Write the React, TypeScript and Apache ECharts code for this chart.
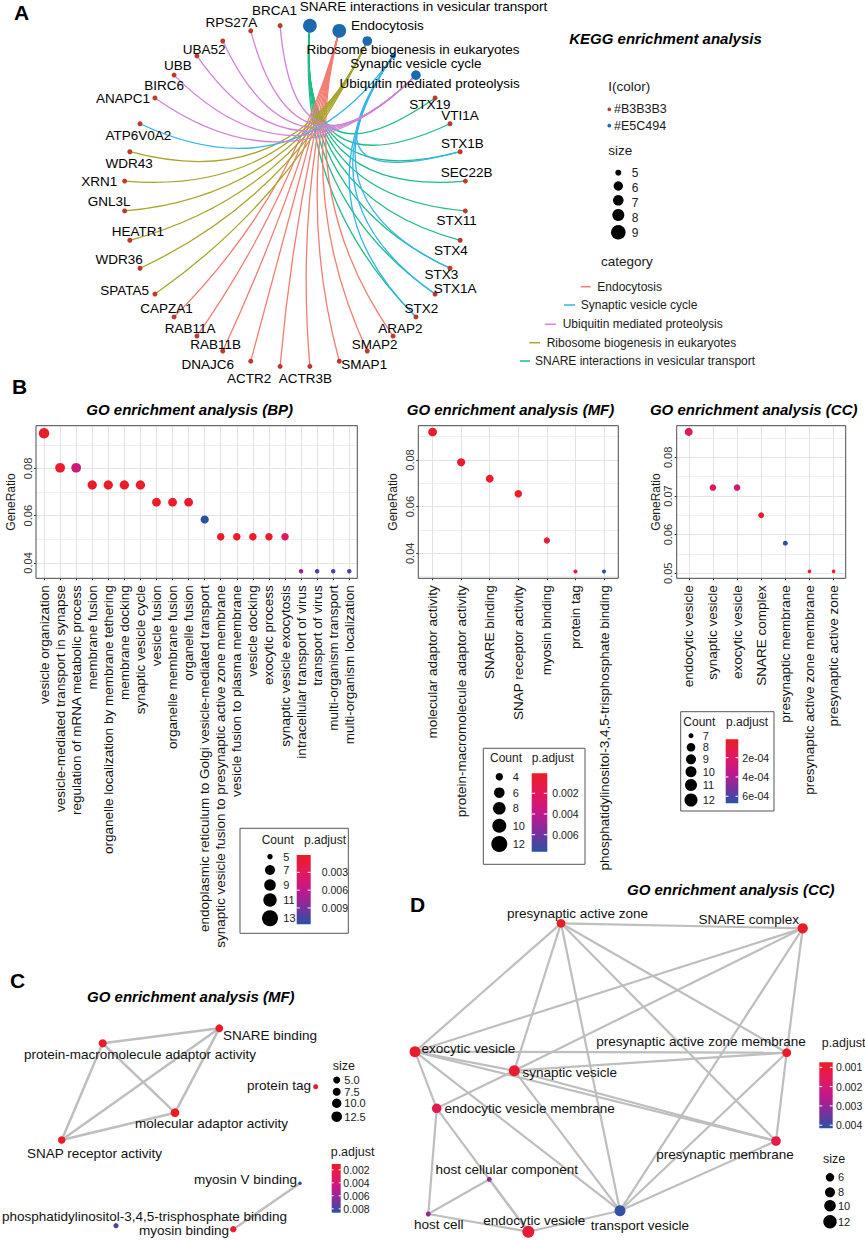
import React, { useEffect, useRef } from 'react';
import * as echarts from 'echarts';

const FONT = '"Liberation Sans", Arial, Helvetica, sans-serif';
const PALETTE = ['#EC1C24', '#E2195B', '#C5178B', '#7D2F9C', '#2A52A3'];

// ---------------- Panel A: KEGG gene-concept network ----------------
const keggCategories = [
  'SNARE interactions in vesicular transport',
  'Endocytosis',
  'Ribosome biogenesis in eukaryotes',
  'Synaptic vesicle cycle',
  'Ubiquitin mediated proteolysis',
];
const keggCategoryCounts = [9, 9, 6, 5, 6];
const snareGenes = ['STX19', 'VTI1A', 'STX1B', 'SEC22B', 'STX11', 'STX4', 'STX3', 'STX1A', 'STX2'];
const endocytosisGenes = ['CAPZA1', 'RAB11A', 'RAB11B', 'DNAJC6', 'ACTR2', 'ACTR3B', 'SMAP1', 'SMAP2', 'ARAP2'];
const ribosomeGenes = ['WDR43', 'XRN1', 'GNL3L', 'HEATR1', 'WDR36', 'SPATA5'];
const synapticGenes = ['ATP6V0A2', 'STX1B', 'STX3', 'STX1A', 'STX2'];
const ubiquitinGenes = ['BRCA1', 'RPS27A', 'UBA52', 'UBB', 'BIRC6', 'ANAPC1'];
const keggGeneSets = [snareGenes, endocytosisGenes, ribosomeGenes, synapticGenes, ubiquitinGenes];
// node order round the circle, clockwise from 3 o'clock
const keggCircleOrder = [
  'STX11', 'STX4', 'STX3', 'STX1A', 'STX2', 'ARAP2', 'SMAP2', 'SMAP1', 'ACTR3B', 'ACTR2',
  'DNAJC6', 'RAB11B', 'RAB11A', 'CAPZA1', 'SPATA5', 'WDR36', 'HEATR1', 'GNL3L', 'XRN1', 'WDR43',
  'ATP6V0A2', 'ANAPC1', 'BIRC6', 'UBB', 'UBA52', 'RPS27A', 'BRCA1',
  'SNARE interactions in vesicular transport', 'Endocytosis', 'Ribosome biogenesis in eukaryotes',
  'Synaptic vesicle cycle', 'Ubiquitin mediated proteolysis',
  'STX19', 'VTI1A', 'STX1B', 'SEC22B',
];
const keggLegendOrder = [
  'Endocytosis', 'Synaptic vesicle cycle', 'Ubiquitin mediated proteolysis',
  'Ribosome biogenesis in eukaryotes', 'SNARE interactions in vesicular transport',
];
const keggColorLegend = ['#B3B3B3', '#E5C494'];
const keggSizeBreaks = [5, 6, 7, 8, 9];

// ---------------- Panel B: dot plots ----------------
const bpTerms = [
  'vesicle organization', 'vesicle-mediated transport in synapse', 'regulation of mRNA metabolic process',
  'membrane fusion', 'organelle localization by membrane tethering', 'membrane docking', 'synaptic vesicle cycle',
  'vesicle fusion', 'organelle membrane fusion', 'organelle fusion',
  'endoplasmic reticulum to Golgi vesicle-mediated transport',
  'synaptic vesicle fusion to presynaptic active zone membrane', 'vesicle fusion to plasma membrane',
  'vesicle docking', 'exocytic process', 'synaptic vesicle exocytosis', 'intracellular transport of virus',
  'transport of virus', 'multi-organism transport', 'multi-organism localization',
];
const bpGeneRatio = [0.0949, 0.0803, 0.0803, 0.073, 0.073, 0.073, 0.073, 0.0657, 0.0657, 0.0657, 0.0584,
  0.0511, 0.0511, 0.0511, 0.0511, 0.0511, 0.0365, 0.0365, 0.0365, 0.0365];
const bpCount = [13, 11, 11, 10, 10, 10, 10, 9, 9, 9, 8, 7, 7, 7, 7, 7, 5, 5, 5, 5];
const bpPadj = [0.0004, 0.0006, 0.005, 0.0003, 0.0003, 0.0003, 0.0005, 0.0004, 0.0004, 0.0006, 0.0117,
  0.0002, 0.0002, 0.0004, 0.0004, 0.0035, 0.0072, 0.0102, 0.0102, 0.0102];
const bpYRange = [0.0335, 0.0981];
const bpPadjRange = [0.00007, 0.01176];
const bpCountBreaks = [5, 7, 9, 11, 13];
const bpPadjTicks = [0.003, 0.006, 0.009];
const bpPadjLabels = ['0.003', '0.006', '0.009'];

const mfTerms = [
  'molecular adaptor activity', 'protein-macromolecule adaptor activity', 'SNARE binding',
  'SNAP receptor activity', 'myosin binding', 'protein tag',
  'phosphatidylinositol-3,4,5-trisphosphate binding',
];
const mfGeneRatio = [0.092, 0.079, 0.072, 0.0655, 0.0455, 0.0322, 0.0322];
const mfCount = [13, 11, 10, 9, 6, 4, 4];
const mfPadj = [0.0004, 0.0004, 0.0003, 0.0002, 0.0008, 0.0008, 0.0076];
const mfYRange = [0.0293, 0.0947];
const mfPadjRange = [0.00007, 0.00764];
const mfCountBreaks = [4, 6, 8, 10, 12];
const mfPadjTicks = [0.002, 0.004, 0.006];
const mfPadjLabels = ['0.002', '0.004', '0.006'];

const ccTerms = [
  'endocytic vesicle', 'synaptic vesicle', 'exocytic vesicle', 'SNARE complex', 'presynaptic membrane',
  'presynaptic active zone membrane', 'presynaptic active zone',
];
const ccGeneRatio = [0.0866, 0.0722, 0.0722, 0.065, 0.0578, 0.0505, 0.0505];
const ccCount = [12, 10, 10, 9, 8, 7, 7];
const ccPadj = [0.00018, 0.0002, 0.00026, 0.00005, 0.00066, 0.00003, 0.00003];
const ccYRange = [0.0487, 0.0882];
const ccPadjRange = [0.00001, 0.000673];
const ccCountBreaks = [7, 8, 9, 10, 11, 12];
const ccPadjTicks = [0.0002, 0.0004, 0.0006];
const ccPadjLabels = ['2e-04', '4e-04', '6e-04'];

// ---------------- Panel C: MF enrichment map ----------------
const cTerms = [
  'SNARE binding', 'protein-macromolecule adaptor activity', 'protein tag', 'molecular adaptor activity',
  'SNAP receptor activity', 'myosin V binding', 'phosphatidylinositol-3,4,5-trisphosphate binding', 'myosin binding',
];
const cLayoutX = [219.3, 102.7, 315.7, 175, 61.7, 300, 116, 233.3];
const cLayoutY = [68.3, 83.3, 126.7, 152.7, 180, 223.3, 265.7, 269.3];
const cCount = [10, 11, 4, 13, 9, 3, 4, 6];
const cPadj = [0.0012, 0.0012, 0.0013, 0.0012, 0.0011, 0.0086, 0.0078, 0.0014];
const cEdges = [
  ['protein-macromolecule adaptor activity', 'SNARE binding'],
  ['protein-macromolecule adaptor activity', 'molecular adaptor activity'],
  ['protein-macromolecule adaptor activity', 'SNAP receptor activity'],
  ['SNARE binding', 'SNAP receptor activity'],
  ['SNARE binding', 'molecular adaptor activity'],
  ['SNAP receptor activity', 'molecular adaptor activity'],
  ['myosin V binding', 'myosin binding'],
];
const cPadjRange = [0.0011, 0.0086];
const cSizeBreaks = ['5.0', '7.5', '10.0', '12.5'];
const cPadjTicks = [0.002, 0.004, 0.006, 0.008];
const cPadjLabels = ['0.002', '0.004', '0.006', '0.008'];

// ---------------- Panel D: CC enrichment map ----------------
const dTerms = [
  'presynaptic active zone', 'SNARE complex', 'exocytic vesicle', 'presynaptic active zone membrane',
  'synaptic vesicle', 'endocytic vesicle membrane', 'presynaptic membrane', 'host cellular component',
  'host cell', 'endocytic vesicle', 'transport vesicle',
];
const dLayoutX = [161, 402.7, 15, 386.7, 114.3, 36.7, 376, 89.3, 28.3, 128.3, 220];
const dLayoutY = [43.3, 48.3, 171.7, 172.7, 190.7, 228.3, 261, 299.3, 334, 351.7, 330.7];
const dCount = [7, 9, 10, 7, 10, 8, 8, 5, 5, 12, 10];
const dPadj = [0.0008, 0.0008, 0.0009, 0.0008, 0.0009, 0.0014, 0.0013, 0.003, 0.003, 0.0011, 0.0041];
const dEdges = [
  ['presynaptic active zone', 'SNARE complex'],
  ['presynaptic active zone', 'exocytic vesicle'],
  ['presynaptic active zone', 'synaptic vesicle'],
  ['presynaptic active zone', 'transport vesicle'],
  ['presynaptic active zone', 'presynaptic membrane'],
  ['presynaptic active zone', 'presynaptic active zone membrane'],
  ['SNARE complex', 'exocytic vesicle'],
  ['SNARE complex', 'synaptic vesicle'],
  ['SNARE complex', 'presynaptic active zone membrane'],
  ['SNARE complex', 'transport vesicle'],
  ['exocytic vesicle', 'presynaptic active zone membrane'],
  ['exocytic vesicle', 'synaptic vesicle'],
  ['exocytic vesicle', 'presynaptic membrane'],
  ['exocytic vesicle', 'endocytic vesicle membrane'],
  ['exocytic vesicle', 'transport vesicle'],
  ['synaptic vesicle', 'presynaptic active zone membrane'],
  ['synaptic vesicle', 'presynaptic membrane'],
  ['synaptic vesicle', 'endocytic vesicle membrane'],
  ['synaptic vesicle', 'transport vesicle'],
  ['presynaptic active zone membrane', 'presynaptic membrane'],
  ['presynaptic active zone membrane', 'transport vesicle'],
  ['presynaptic membrane', 'transport vesicle'],
  ['endocytic vesicle membrane', 'host cell'],
  ['endocytic vesicle membrane', 'endocytic vesicle'],
  ['host cellular component', 'endocytic vesicle'],
  ['host cellular component', 'host cell'],
  ['host cell', 'endocytic vesicle'],
  ['endocytic vesicle', 'transport vesicle'],
];
const dPadjRange = [0.00074, 0.00416];
const dSizeBreaks = [6, 8, 10, 12];
const dPadjTicks = [0.001, 0.002, 0.003, 0.004];
const dPadjLabels = ['0.001', '0.002', '0.003', '0.004'];

// ---------------- styles / placement ----------------
const keggColors: Record<string, string> = {
  'Endocytosis': '#F47C72',
  'Synaptic vesicle cycle': '#35B4EA',
  'Ubiquitin mediated proteolysis': '#D083DA',
  'Ribosome biogenesis in eukaryotes': '#A9A52A',
  'SNARE interactions in vesicular transport': '#1DBE86',
};
const GENE_RED = '#BB3A2C';
const CAT_BLUE = '#1B6AAE';
const keggLabelOffset: Record<string, number[]> = {
  BRCA1: [-5.5, -15], RPS27A: [-19.4, -8.3], UBA52: [-18.5, 8.3], UBB: [-19, 10], BIRC6: [-10, 10],
  ANAPC1: [-32, 0.6], ATP6V0A2: [-1.6, 11.7], WDR43: [-0.6, 11.7], XRN1: [-25.3, 0.4], GNL3L: [-15.5, -9.3],
  HEATR1: [8, -8.3], WDR36: [-21, -8.3], SPATA5: [-30.4, -4], CAPZA1: [-7.6, -8.3], RAB11A: [-6.7, -8],
  RAB11B: [-7, -6.7], DNAJC6: [-43, 3.3], ACTR2: [-31, 11.7], ACTR3B: [-4.5, 11.7], SMAP1: [25, 3],
  SMAP2: [7.3, -6.7], ARAP2: [7.4, -8], STX2: [5.5, -8.3], STX1A: [20, -5.3], STX3: [-8.7, 6.7],
  STX4: [-9.4, 10], STX11: [-8.8, 9.7], SEC22B: [1.2, -8.7], STX1B: [2.1, -8.3], VTI1A: [10.1, -8.3],
  STX19: [-5.2, 6.3],
  'Ubiquitin mediated proteolysis': [13.7, 8.7],
  'Synaptic vesicle cycle': [22.7, 7.3],
  'Ribosome biogenesis in eukaryotes': [45.8, 8.3],
  'Endocytosis': [48.2, -5.7],
  'SNARE interactions in vesicular transport': [113.6, -18.7],
};
const cLabelOffset: Record<string, number[]> = {
  'SNARE binding': [50.7, 6.7],
  'protein-macromolecule adaptor activity': [37.3, 10.7],
  'protein tag': [-36.7, -1.7],
  'molecular adaptor activity': [36.5, 10.6],
  'SNAP receptor activity': [32.8, 13.3],
  'myosin V binding': [-54.5, -4.3],
  'phosphatidylinositol-3,4,5-trisphosphate binding': [28.5, -9.7],
  'myosin binding': [-49.3, 1.4],
};
const dLabelOffset: Record<string, number[]> = {
  'presynaptic active zone': [16.5, -10],
  'SNARE complex': [-54, -9.3],
  'exocytic vesicle': [53.3, -3.4],
  'presynaptic active zone membrane': [-85.7, -11],
  'synaptic vesicle': [55.5, 1.6],
  'endocytic vesicle membrane': [93, 0],
  'presynaptic membrane': [-51, 13],
  'host cellular component': [17.4, -10],
  'host cell': [10.5, 10.3],
  'endocytic vesicle': [5.9, -11.7],
  'transport vesicle': [19.8, 14.3],
};

function sizeScale(c: number, cMin: number, cMax: number, dMin: number, dMax: number, p: number) {
  const t = Math.max(0, Math.min(1, (c - cMin) / (cMax - cMin)));
  return dMin + (dMax - dMin) * Math.pow(t, p);
}

function buildOption() {
  const graphic: any[] = [];
  const txt = (x: number, y: number, text: string, o: any = {}) => {
    graphic.push({
      type: 'text', x, y, silent: true, z: 20,
      style: {
        text, fill: o.fill || '#1a1a1a', fontSize: o.size || 12, fontFamily: FONT,
        fontWeight: o.weight || 'normal', fontStyle: o.style || 'normal',
        align: o.align || 'left', textAlign: o.align || 'left',
        verticalAlign: 'middle', textVerticalAlign: 'middle',
      },
    });
  };
  const line = (x1: number, y1: number, x2: number, y2: number, stroke: string, w = 1) => {
    graphic.push({ type: 'line', silent: true, z: 21, shape: { x1, y1, x2, y2 }, style: { stroke, lineWidth: w } });
  };
  const circle = (cx: number, cy: number, r: number, fill: string) => {
    graphic.push({ type: 'circle', silent: true, z: 21, shape: { cx, cy, r }, style: { fill } });
  };
  const rect = (x: number, y: number, w: number, h: number, style: any, z = 19) => {
    graphic.push({ type: 'rect', silent: true, z, shape: { x, y, width: w, height: h }, style });
  };
  const colorbar = (x: number, y: number, w: number, h: number, range: number[], ticks: number[],
    labels: string[], labelX: number) => {
    rect(x, y, w, h, {
      fill: new echarts.graphic.LinearGradient(0, 0, 0, 1,
        PALETTE.map((c, i) => ({ offset: i / (PALETTE.length - 1), color: c }))),
    }, 20);
    ticks.forEach((v, k) => {
      const ty = y + ((v - range[0]) / (range[1] - range[0])) * h;
      line(x, ty, x + w * 0.22, ty, '#ffffff', 1);
      line(x + w * 0.78, ty, x + w, ty, '#ffffff', 1);
      txt(labelX, ty, labels[k], { size: 10.5 });
    });
  };

  // panel letters
  txt(21.5, 12.5, 'A', { size: 21, weight: 'bold', align: 'center', fill: '#000' });
  txt(19.7, 386, 'B', { size: 21, weight: 'bold', align: 'center', fill: '#000' });
  txt(17.5, 980, 'C', { size: 21, weight: 'bold', align: 'center', fill: '#000' });
  txt(417.5, 904, 'D', { size: 21, weight: 'bold', align: 'center', fill: '#000' });
  // titles
  const title = (x: number, y: number, s: string) =>
    txt(x, y, s, { size: 15, weight: 'bold', style: 'italic', align: 'center', fill: '#000' });
  title(665.5, 38.3, 'KEGG enrichment analysis');
  title(189.7, 409.3, 'GO enrichment analysis (BP)');
  title(510.5, 409.3, 'GO enrichment analysis (MF)');
  title(753.7, 409.3, 'GO enrichment analysis (CC)');
  title(190.8, 996, 'GO enrichment analysis (MF)');
  title(730.8, 889.3, 'GO enrichment analysis (CC)');

  // ---- panel A legend ----
  txt(608.3, 86.7, 'I(color)', { size: 13.5 });
  circle(609.3, 109.3, 1.9, GENE_RED);
  txt(614, 109.3, keggColorLegend[0], { size: 12.5 });
  circle(609.3, 125.7, 1.9, CAT_BLUE);
  txt(614, 125.7, keggColorLegend[1], { size: 12.5 });
  txt(608.3, 150, 'size', { size: 13.5 });
  const aDotY = [172.7, 186, 200.3, 215, 232.3];
  const aDotR = [3, 4.7, 5.3, 6, 7.3];
  const aLabY = [172.7, 187.7, 202.7, 218.3, 233.3];
  keggSizeBreaks.forEach((b, i) => {
    circle(618.3, aDotY[i], aDotR[i], '#000');
    txt(631.7, aLabY[i], String(b), { size: 12 });
  });
  txt(601, 261.7, 'category', { size: 13.5 });
  const catLineX = [[580.7, 590.7], [564, 575], [545, 556], [529.3, 540], [520, 530]];
  const catY = [286.7, 305, 324.3, 342.7, 361];
  const catTextX = [597.3, 580.7, 562.7, 546.7, 535];
  keggLegendOrder.forEach((c, i) => {
    line(catLineX[i][0], catY[i], catLineX[i][1], catY[i], keggColors[c], 1.5);
    txt(catTextX[i], catY[i], c, { size: 12 });
  });

  // ---- panel B legends ----
  rect(240, 828.3, 108.3, 105, { fill: '#fff', stroke: '#555', lineWidth: 1 });
  txt(261.7, 840, 'Count', { size: 12 });
  txt(304, 840, 'p.adjust', { size: 12 });
  const bpDotY = [856.7, 870, 885, 900, 918.3];
  const bpDotR = [2.7, 5, 5.8, 6.7, 8];
  bpCountBreaks.forEach((b, i) => {
    circle(270, bpDotY[i], bpDotR[i], '#000');
    txt(283.3, bpDotY[i], String(b), { size: 11 });
  });
  colorbar(296.7, 855, 14, 69.3, bpPadjRange, bpPadjTicks, bpPadjLabels, 321.7);

  rect(483.3, 748.3, 101.7, 116, { fill: '#fff', stroke: '#555', lineWidth: 1 });
  txt(490, 757.7, 'Count', { size: 12 });
  txt(531.7, 757.7, 'p.adjust', { size: 12 });
  const mfDotY = [776.7, 792.7, 808.3, 825.7, 844];
  const mfDotR = [3.7, 5.3, 6.3, 7, 8];
  mfCountBreaks.forEach((b, i) => {
    circle(499.3, mfDotY[i], mfDotR[i], '#000');
    txt(512.7, mfDotY[i], String(b), { size: 11 });
  });
  colorbar(531.7, 773.3, 15.6, 78.4, mfPadjRange, mfPadjTicks, mfPadjLabels, 552.3);

  rect(680.7, 711.7, 93.3, 99.3, { fill: '#fff', stroke: '#555', lineWidth: 1 });
  txt(683.3, 721.7, 'Count', { size: 12 });
  txt(726, 721.7, 'p.adjust', { size: 12 });
  const ccDotY = [735.7, 747.3, 759.3, 771.7, 785, 800];
  const ccDotR = [2.5, 4.3, 5, 5.5, 6, 6.5];
  ccCountBreaks.forEach((b, i) => {
    circle(691, ccDotY[i], ccDotR[i], '#000');
    txt(702.7, ccDotY[i], String(b), { size: 11 });
  });
  colorbar(725.7, 739.3, 12.6, 64, ccPadjRange, ccPadjTicks, ccPadjLabels, 742.3);

  // ---- panel C legend ----
  txt(332.7, 1065.7, 'size', { size: 12.5 });
  const cDotY = [1080, 1091.7, 1103.3, 1116.7];
  const cDotR = [3.5, 4, 4.7, 5.3];
  cSizeBreaks.forEach((b, i) => {
    circle(336.7, cDotY[i], cDotR[i], '#000');
    txt(344.3, cDotY[i], b, { size: 11 });
  });
  txt(330.7, 1151.7, 'p.adjust', { size: 12.5 });
  colorbar(331.7, 1164, 9, 48.7, cPadjRange, cPadjTicks, cPadjLabels, 343.3);

  // ---- panel D legend ----
  txt(821.7, 1042.7, 'p.adjust', { size: 12.5 });
  colorbar(819.3, 1062.3, 13.4, 66, dPadjRange, dPadjTicks, dPadjLabels, 836);
  txt(823, 1159, 'size', { size: 12.5 });
  const dDotY = [1177.3, 1192.3, 1205.7, 1221.7];
  const dDotR = [4.2, 5, 5.8, 6.7];
  dSizeBreaks.forEach((b, i) => {
    circle(830, dDotY[i], dDotR[i], '#000');
    txt(838, dDotY[i], String(b), { size: 11 });
  });

  // ---- dot plot grids ----
  const boxes = [
    { left: 36, top: 425.7, width: 321.3, height: 152.6 },
    { left: 418.3, top: 425.7, width: 200, height: 152.6 },
    { left: 676.7, top: 425.7, width: 169, height: 152.6 },
  ];
  boxes.forEach((b) => rect(b.left, b.top, b.width, b.height, { fill: 'none', stroke: '#4d4d4d', lineWidth: 1 }, 5));

  const xAxisCfg = (gridIndex: number, terms: string[]) => ({
    type: 'category', gridIndex, data: terms, boundaryGap: true,
    axisLine: { show: false },
    axisTick: { show: true, length: 2, alignWithLabel: true, interval: 0, lineStyle: { color: '#333' } },
    axisLabel: { rotate: 90, interval: 0, fontSize: 13.5, color: '#111', margin: 7, fontFamily: FONT },
    splitLine: { show: false },
  });
  const yAxisCfg = (gridIndex: number, range: number[], splitNumber: number, nameGap: number) => ({
    type: 'value', gridIndex, min: range[0], max: range[1], splitNumber,
    name: 'GeneRatio', nameLocation: 'middle', nameRotate: 90, nameGap,
    nameTextStyle: { fontSize: 12, color: '#1a1a1a', fontFamily: FONT },
    axisLine: { show: false },
    axisTick: { show: true, length: 2, lineStyle: { color: '#333' } },
    axisLabel: { rotate: 90, fontSize: 11, color: '#333', margin: 3, showMinLabel: false, showMaxLabel: false, fontFamily: FONT },
    splitLine: { show: true, lineStyle: { color: '#E3E3E3', width: 1 } },
    minorTick: { show: false, splitNumber: 2 },
    minorSplitLine: { show: true, lineStyle: { color: '#EEEEEE', width: 1 } },
  });
  const dotSeries = (i: number, terms: string[], ratio: number[], count: number[], padj: number[], sz: (c: number) => number) => ({
    type: 'scatter', xAxisIndex: i, yAxisIndex: i, silent: true, z: 3,
    symbol: 'circle',
    data: terms.map((t, k) => [k, ratio[k], count[k], padj[k]]),
    symbolSize: (v: any) => sz(v[2]),
    itemStyle: { opacity: 1 },
    markLine: {
      silent: true, z: 1, symbol: ['none', 'none'], label: { show: false }, animation: false,
      lineStyle: { color: '#E3E3E3', width: 1, type: 'solid' },
      emphasis: { disabled: true },
      data: terms.map((_, k) => ({ xAxis: k })),
    },
  });

  // ---- network series ----
  const nKegg = keggCircleOrder.length;
  const R = 171, CX = 295, CY = 196;
  const keggPos: Record<string, number[]> = {};
  keggCircleOrder.forEach((name, i) => {
    const t = (2 * Math.PI * (i + 0.5)) / nKegg;
    keggPos[name] = [R * Math.cos(t), R * Math.sin(t)];
  });
  const kxs = Object.values(keggPos).map((p) => p[0]);
  const kys = Object.values(keggPos).map((p) => p[1]);
  const kMinX = Math.min(...kxs), kMaxX = Math.max(...kxs), kMinY = Math.min(...kys), kMaxY = Math.max(...kys);
  const keggNodes = keggCircleOrder.map((name) => {
    const ci = keggCategories.indexOf(name);
    const isCat = ci >= 0;
    const size = isCat ? sizeScale(keggCategoryCounts[ci], 5, 9, 5.5, 13.8, 0.5) : 5;
    return {
      name, x: keggPos[name][0], y: keggPos[name][1], symbolSize: size,
      itemStyle: { color: isCat ? CAT_BLUE : GENE_RED, opacity: 1 },
      label: { offset: keggLabelOffset[name] || [0, 0] },
    };
  });
  const keggLinks: any[] = [];
  keggCategories.forEach((cat, ci) => {
    keggGeneSets[ci].forEach((gene) => {
      const p1 = keggPos[cat], p2 = keggPos[gene];
      const mid = [(p1[0] + p2[0]) / 2, (p1[1] + p2[1]) / 2];
      const perp = [p2[1] - p1[1], p1[0] - p2[0]];
      const curv = -(mid[0] * perp[0] + mid[1] * perp[1]) / (perp[0] * perp[0] + perp[1] * perp[1]);
      keggLinks.push({ source: cat, target: gene, lineStyle: { color: keggColors[cat], curveness: curv } });
    });
  });

  const netBox = (xs: number[], ys: number[], ox: number, oy: number) => {
    const minX = Math.min(...xs), maxX = Math.max(...xs), minY = Math.min(...ys), maxY = Math.max(...ys);
    return { left: ox + minX, top: oy + minY, width: maxX - minX, height: maxY - minY };
  };
  const cBox = netBox(cLayoutX, cLayoutY, 0, 960);
  const dBox = netBox(dLayoutX, dLayoutY, 400, 880);

  const netLabel = { show: true, position: 'inside', fontSize: 13.5, color: '#111', fontFamily: FONT };

  const series: any[] = [
    dotSeries(0, bpTerms, bpGeneRatio, bpCount, bpPadj, (c) => sizeScale(c, 5, 13, 4.5, 10.5, 0.5)),
    dotSeries(1, mfTerms, mfGeneRatio, mfCount, mfPadj, (c) => sizeScale(c, 4, 13, 4, 8.7, 0.5)),
    dotSeries(2, ccTerms, ccGeneRatio, ccCount, ccPadj, (c) => sizeScale(c, 7, 12, 3.7, 8, 0.75)),
    {
      type: 'graph', layout: 'none', coordinateSystem: 'view', roam: false, silent: true, z: 2,
      left: CX + kMinX, top: CY + kMinY, width: kMaxX - kMinX, height: kMaxY - kMinY,
      data: keggNodes, links: keggLinks,
      label: { show: true, position: 'inside', fontSize: 13.5, color: '#000', fontFamily: FONT },
      lineStyle: { width: 1.3, opacity: 1 },
      emphasis: { disabled: true },
    },
    {
      type: 'graph', layout: 'none', coordinateSystem: 'view', roam: false, silent: true, z: 2,
      ...cBox,
      data: cTerms.map((name, k) => ({
        name, x: cLayoutX[k], y: cLayoutY[k], value: cPadj[k],
        symbolSize: sizeScale(cCount[k], 3, 13, 3.5, 8.7, 0.5),
        label: { offset: cLabelOffset[name] },
      })),
      links: cEdges.map((e) => ({ source: e[0], target: e[1] })),
      itemStyle: { opacity: 1 },
      label: netLabel,
      lineStyle: { color: '#BEBEBE', width: 2.5, opacity: 1, curveness: 0 },
      emphasis: { disabled: true },
    },
    {
      type: 'graph', layout: 'none', coordinateSystem: 'view', roam: false, silent: true, z: 2,
      ...dBox,
      data: dTerms.map((name, k) => ({
        name, x: dLayoutX[k], y: dLayoutY[k], value: dPadj[k],
        symbolSize: sizeScale(dCount[k], 5, 12, 5, 12, 0.5),
        label: { offset: dLabelOffset[name] },
      })),
      links: dEdges.map((e) => ({ source: e[0], target: e[1] })),
      itemStyle: { opacity: 1 },
      label: netLabel,
      lineStyle: { color: '#BEBEBE', width: 2.2, opacity: 1, curveness: 0 },
      emphasis: { disabled: true },
    },
  ];

  const vm = (seriesIndex: number, range: number[], dimension?: number) => {
    const o: any = { type: 'continuous', show: false, seriesIndex, min: range[0], max: range[1], inRange: { color: PALETTE } };
    if (dimension != null) o.dimension = dimension;
    return o;
  };

  return {
    animation: false,
    backgroundColor: '#ffffff',
    textStyle: { fontFamily: FONT },
    grid: boxes.map((b) => ({ ...b, show: false, containLabel: false })),
    xAxis: [xAxisCfg(0, bpTerms), xAxisCfg(1, mfTerms), xAxisCfg(2, ccTerms)],
    yAxis: [yAxisCfg(0, bpYRange, 3, 19.5), yAxisCfg(1, mfYRange, 3, 19.3), yAxisCfg(2, ccYRange, 4, 14.7)],
    visualMap: [
      vm(0, bpPadjRange, 3), vm(1, mfPadjRange, 3), vm(2, ccPadjRange, 3),
      vm(4, cPadjRange), vm(5, dPadjRange),
    ],
    series,
    graphic: { elements: graphic },
  };
}

export default function App() {
  const ref = useRef<HTMLDivElement>(null);
  useEffect(() => {
    if (!ref.current) return;
    const chart = echarts.init(ref.current, undefined, { renderer: 'svg' });
    chart.setOption(buildOption() as any);
    return () => chart.dispose();
  }, []);
  return (
    <div
      ref={ref}
      style={{ position: 'absolute', left: 0, top: 0, width: 865, height: 1240, background: '#fff' }}
    />
  );
}
